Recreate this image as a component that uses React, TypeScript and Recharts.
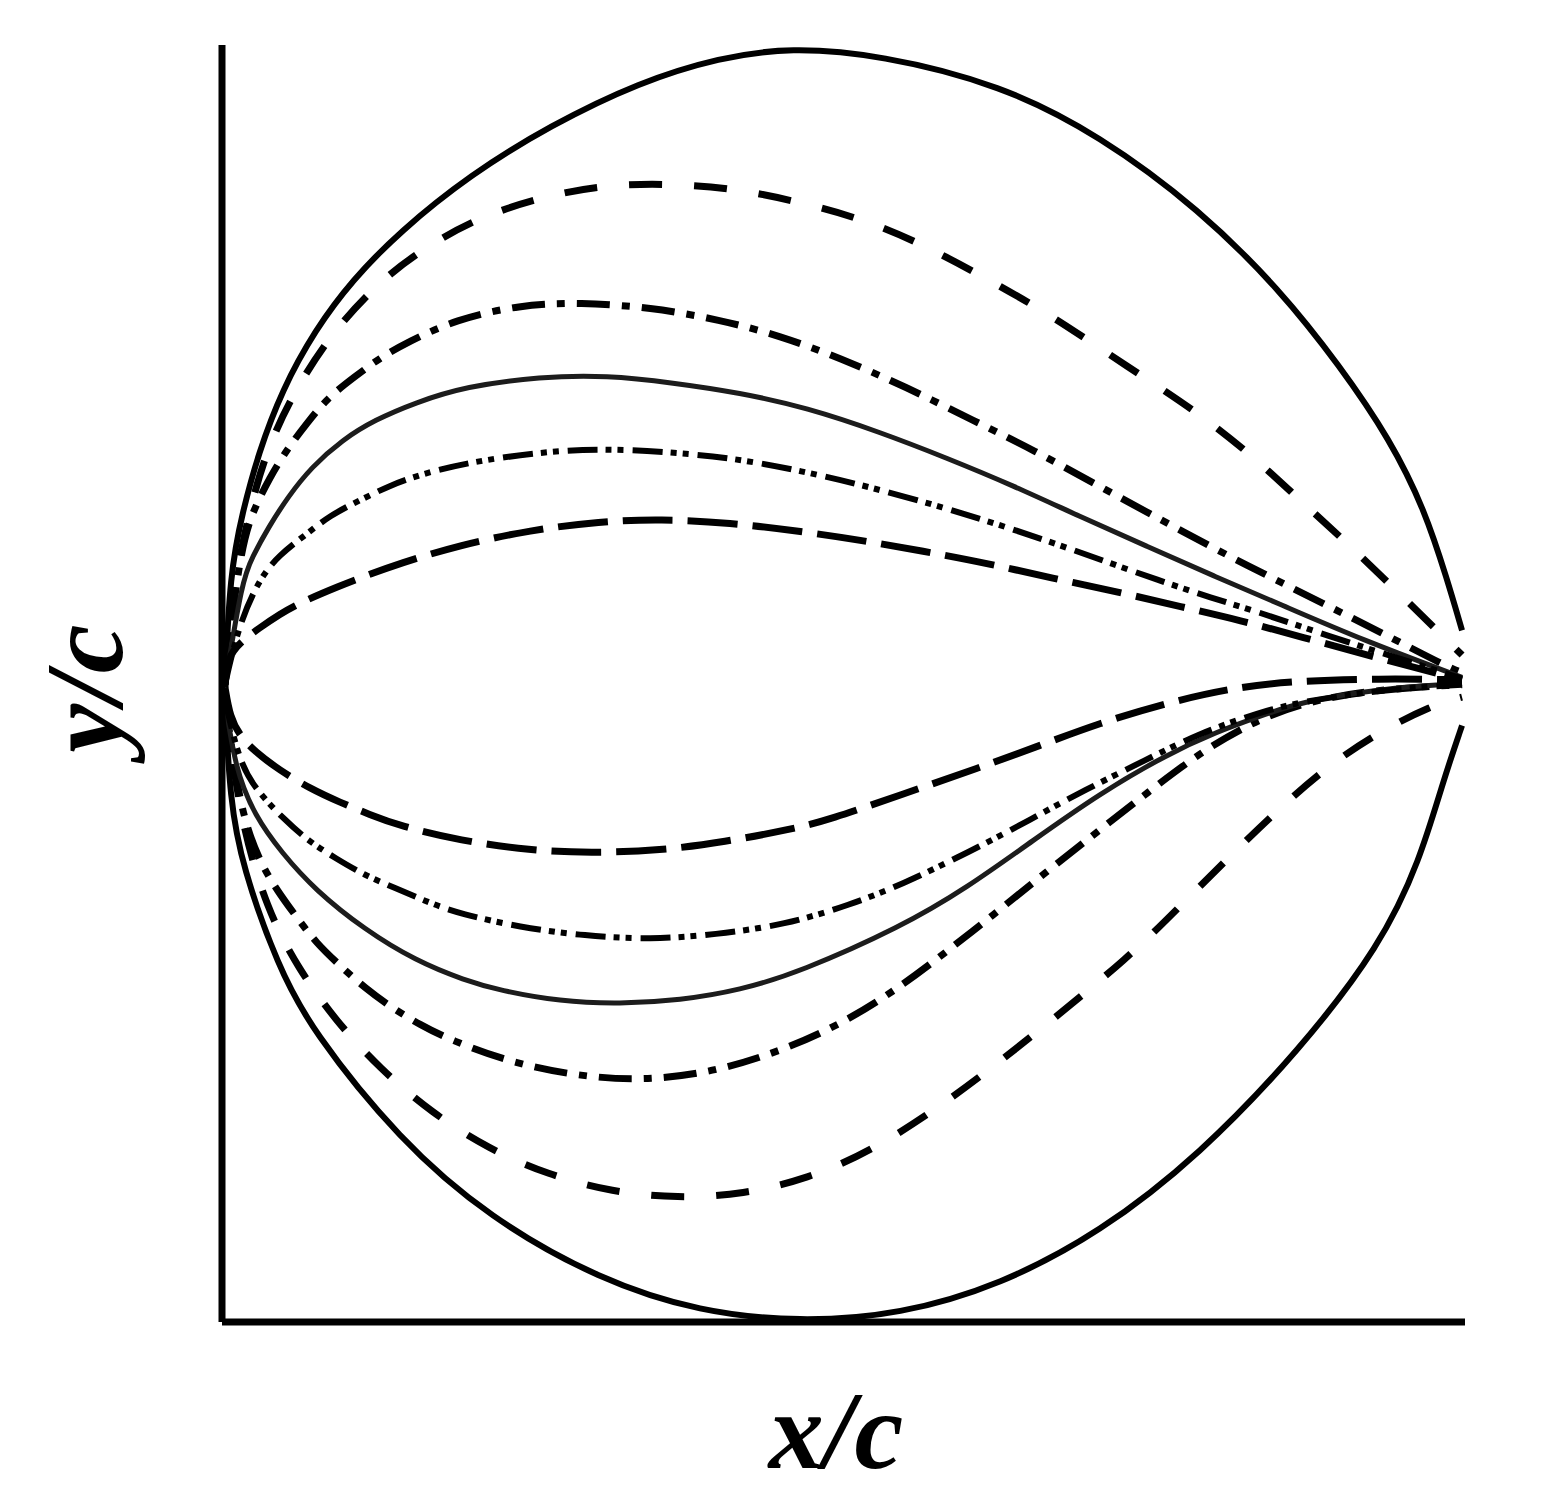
import React from 'react';
import { LineChart, Line, XAxis, YAxis, Label } from 'recharts';

type Pt = [number, number];

// x/c, y/c (chord from leading edge to trailing edge)
const OUTER_UPPER: Pt[] = [
  [0, 0.006], [0.004, 0.096], [0.014, 0.145], [0.027, 0.193], [0.046, 0.244], [0.073, 0.293],
  [0.103, 0.333], [0.141, 0.372], [0.198, 0.418], [0.263, 0.458], [0.335, 0.493], [0.4, 0.513],
  [0.457, 0.521], [0.53, 0.515], [0.627, 0.491], [0.707, 0.45], [0.788, 0.39], [0.853, 0.325],
  [0.901, 0.264], [0.942, 0.204], [0.97, 0.147], [0.988, 0.091], [1.0, 0.05],
];
const OUTER_LOWER: Pt[] = [
  [0, -0.006], [0.004, -0.087], [0.014, -0.141], [0.043, -0.222], [0.07, -0.273], [0.141, -0.362],
  [0.214, -0.425], [0.303, -0.475], [0.384, -0.501], [0.465, -0.509], [0.546, -0.503], [0.627, -0.479],
  [0.707, -0.437], [0.788, -0.374], [0.869, -0.289], [0.934, -0.205], [0.966, -0.136], [0.985, -0.071],
  [1.0, -0.027],
];
const DASHED_UPPER: Pt[] = [
  [0, 0.006], [0.002, 0.058], [0.016, 0.131], [0.031, 0.189], [0.053, 0.238], [0.085, 0.289],
  [0.124, 0.331], [0.158, 0.357], [0.203, 0.383], [0.255, 0.4], [0.306, 0.41], [0.36, 0.411],
  [0.413, 0.407], [0.465, 0.396], [0.517, 0.382], [0.566, 0.361], [0.618, 0.333], [0.667, 0.305],
  [0.707, 0.278], [0.753, 0.248], [0.793, 0.221], [0.834, 0.188], [0.869, 0.155], [0.909, 0.119],
  [0.951, 0.078], [0.99, 0.04], [1.0, 0.03],
];
const DASHED_LOWER: Pt[] = [
  [0, -0.006], [0.012, -0.103], [0.034, -0.176], [0.059, -0.223], [0.089, -0.265], [0.125, -0.304],
  [0.167, -0.34], [0.213, -0.369], [0.261, -0.39], [0.313, -0.404], [0.366, -0.409], [0.419, -0.406],
  [0.471, -0.393], [0.521, -0.372], [0.586, -0.33], [0.659, -0.273], [0.732, -0.213], [0.77, -0.175],
  [0.808, -0.137], [0.846, -0.1], [0.886, -0.064], [0.929, -0.034], [0.977, -0.01], [1.0, -0.004],
];
const DASHDOT_UPPER: Pt[] = [
  [0, 0.006], [0.008, 0.082], [0.016, 0.127], [0.024, 0.149], [0.036, 0.173], [0.05, 0.196],
  [0.066, 0.217], [0.083, 0.238], [0.105, 0.255], [0.125, 0.27], [0.148, 0.283], [0.186, 0.301],
  [0.238, 0.313], [0.287, 0.315], [0.344, 0.311], [0.4, 0.301], [0.449, 0.288], [0.497, 0.27],
  [0.55, 0.247], [0.606, 0.219], [0.655, 0.195], [0.702, 0.169], [0.748, 0.144], [0.796, 0.118],
  [0.843, 0.094], [0.891, 0.07], [0.939, 0.046], [0.987, 0.021], [1.0, 0.016],
];
const DASHDOT_LOWER: Pt[] = [
  [0, -0.006], [0.012, -0.095], [0.028, -0.137], [0.042, -0.16], [0.058, -0.182], [0.074, -0.203],
  [0.093, -0.221], [0.113, -0.239], [0.135, -0.255], [0.158, -0.269], [0.182, -0.281], [0.23, -0.299],
  [0.283, -0.31], [0.335, -0.314], [0.39, -0.308], [0.441, -0.293], [0.489, -0.273], [0.535, -0.246],
  [0.578, -0.214], [0.621, -0.18], [0.663, -0.146], [0.705, -0.113], [0.746, -0.081], [0.788, -0.049],
  [0.829, -0.025], [0.869, -0.009], [0.926, 0.002], [1.0, 0.006],
];
const SOLID_UPPER: Pt[] = [
  [0, 0.006], [0.014, 0.091], [0.022, 0.109], [0.035, 0.133], [0.051, 0.158], [0.07, 0.182],
  [0.095, 0.204], [0.121, 0.22], [0.154, 0.234], [0.194, 0.247], [0.255, 0.255], [0.309, 0.256],
  [0.362, 0.25], [0.416, 0.242], [0.47, 0.23], [0.53, 0.21], [0.584, 0.189], [0.637, 0.167],
  [0.691, 0.142], [0.745, 0.118], [0.799, 0.094], [0.853, 0.071], [0.92, 0.042], [1.0, 0.012],
];
const SOLID_LOWER: Pt[] = [
  [0, -0.006], [0.008, -0.061], [0.024, -0.1], [0.046, -0.13], [0.073, -0.16], [0.113, -0.192],
  [0.154, -0.217], [0.194, -0.233], [0.222, -0.241], [0.271, -0.25], [0.319, -0.252], [0.368, -0.249],
  [0.416, -0.241], [0.465, -0.226], [0.546, -0.19], [0.6, -0.158], [0.653, -0.12], [0.707, -0.082],
  [0.762, -0.05], [0.802, -0.032], [0.835, -0.02], [0.869, -0.008], [0.934, 0.003], [1.0, 0.007],
];
const DDD_UPPER: Pt[] = [
  [0, 0.006], [0.011, 0.054], [0.028, 0.092], [0.044, 0.111], [0.065, 0.127], [0.085, 0.143],
  [0.109, 0.155], [0.133, 0.167], [0.158, 0.176], [0.198, 0.186], [0.255, 0.194], [0.303, 0.197],
  [0.36, 0.194], [0.412, 0.189], [0.465, 0.179], [0.517, 0.167], [0.582, 0.149], [0.633, 0.133],
  [0.683, 0.116], [0.733, 0.098], [0.785, 0.08], [0.835, 0.065], [0.893, 0.045], [0.95, 0.027],
  [1.0, 0.011],
];
const DDD_LOWER: Pt[] = [
  [0, -0.006], [0.012, -0.059], [0.028, -0.082], [0.047, -0.102], [0.067, -0.12], [0.089, -0.134],
  [0.113, -0.148], [0.137, -0.158], [0.167, -0.171], [0.19, -0.179], [0.238, -0.19], [0.291, -0.197],
  [0.344, -0.2], [0.396, -0.196], [0.453, -0.188], [0.505, -0.172], [0.546, -0.156], [0.602, -0.129],
  [0.651, -0.103], [0.695, -0.079], [0.744, -0.055], [0.788, -0.033], [0.837, -0.016], [0.869, -0.008],
  [0.934, 0.002], [1.0, 0.006],
];
const LONG_UPPER: Pt[] = [
  [0, 0.004], [0.002, 0.028], [0.012, 0.04], [0.028, 0.052], [0.044, 0.063], [0.062, 0.073],
  [0.093, 0.086], [0.111, 0.093], [0.141, 0.104], [0.19, 0.119], [0.247, 0.131], [0.303, 0.138],
  [0.352, 0.14], [0.408, 0.137], [0.465, 0.13], [0.513, 0.123], [0.564, 0.114], [0.617, 0.104],
  [0.669, 0.092], [0.722, 0.081], [0.773, 0.069], [0.821, 0.058], [0.869, 0.045], [0.934, 0.027],
  [1.0, 0.01],
];
const LONG_LOWER: Pt[] = [
  [0, 0.004], [0.004, -0.02], [0.012, -0.035], [0.024, -0.048], [0.044, -0.063], [0.069, -0.078],
  [0.093, -0.089], [0.117, -0.099], [0.141, -0.108], [0.19, -0.12], [0.247, -0.128], [0.295, -0.13],
  [0.352, -0.128], [0.404, -0.121], [0.457, -0.111], [0.489, -0.103], [0.546, -0.083], [0.61, -0.061],
  [0.659, -0.043], [0.707, -0.025], [0.76, -0.009], [0.812, 0.003], [0.861, 0.009], [0.934, 0.011],
  [1.0, 0.01],
];

const X_DOMAIN: [number, number] = [-0.0024, 1.0024];
const Y_DOMAIN: [number, number] = [-0.509, 0.523];

const toRows = (pts: Pt[]) => pts.map(([x, y]) => ({ x, y }));

const STYLES = {
  solid: { dash: undefined, width: 6, color: '#000' },
  dashed: { dash: '33 32', width: 7, color: '#000' },
  dashDot: { dash: '33 12 8 12', width: 7, color: '#000' },
  thin: { dash: undefined, width: 5, color: '#1c1c1c' },
  dashDotDot: { dash: '30 8 6 6 6 9', width: 6, color: '#000' },
  longDash: { dash: '50 15', width: 7, color: '#000' },
};

const SERIES = [
  { id: 'outerU', pts: OUTER_UPPER, s: STYLES.solid },
  { id: 'outerL', pts: OUTER_LOWER, s: STYLES.solid },
  { id: 'dashU', pts: DASHED_UPPER, s: STYLES.dashed },
  { id: 'dashL', pts: DASHED_LOWER, s: STYLES.dashed },
  { id: 'ddU', pts: DASHDOT_UPPER, s: STYLES.dashDot },
  { id: 'ddL', pts: DASHDOT_LOWER, s: STYLES.dashDot },
  { id: 'thinU', pts: SOLID_UPPER, s: STYLES.thin },
  { id: 'thinL', pts: SOLID_LOWER, s: STYLES.thin },
  { id: 'dddU', pts: DDD_UPPER, s: STYLES.dashDotDot },
  { id: 'dddL', pts: DDD_LOWER, s: STYLES.dashDotDot },
  { id: 'longU', pts: LONG_UPPER, s: STYLES.longDash },
  { id: 'longL', pts: LONG_LOWER, s: STYLES.longDash },
];

const labelFont = {
  fontFamily: "'Liberation Serif', 'Times New Roman', serif",
  fontWeight: 'bold' as const,
  fontStyle: 'italic' as const,
  fontSize: 110,
  fill: '#000',
};

function XLabel(props: any) {
  const vb = props.viewBox || { x: 214, y: 1314, width: 1243, height: 1 };
  return (
    <text x={vb.x + vb.width * 0.494} y={vb.y + 146} textAnchor="middle" {...labelFont}>
      x/c
    </text>
  );
}

function YLabel(props: any) {
  const vb = props.viewBox || { x: 213, y: 37, width: 1, height: 1277 };
  const cx = vb.x + vb.width - 100;
  const cy = vb.y + vb.height * 0.504;
  return (
    <text x={cx} y={cy} textAnchor="middle" transform={`rotate(-90, ${cx}, ${cy})`} {...labelFont}>
      y/c
    </text>
  );
}

export default function App() {
  return (
    <div style={{ width: 1528, height: 1487, background: '#fff' }}>
      <LineChart width={1528} height={1487} margin={{ top: 37, right: 71, bottom: 172, left: 213 }}>
        <XAxis
          type="number"
          dataKey="x"
          domain={X_DOMAIN}
          allowDataOverflow
          height={1}
          tick={false}
          tickLine={false}
          axisLine={{ stroke: '#000', strokeWidth: 7 }}
        >
          <Label content={<XLabel />} />
        </XAxis>
        <YAxis
          type="number"
          dataKey="y"
          domain={Y_DOMAIN}
          allowDataOverflow
          width={1}
          tick={false}
          tickLine={false}
          axisLine={{ stroke: '#000', strokeWidth: 7 }}
        >
          <Label content={<YLabel />} />
        </YAxis>
        {SERIES.map((sr) => (
          <Line
            key={sr.id}
            data={toRows(sr.pts)}
            dataKey="y"
            type="basis"
            stroke={sr.s.color}
            strokeWidth={sr.s.width}
            strokeDasharray={sr.s.dash}
            dot={false}
            activeDot={false}
            isAnimationActive={false}
          />
        ))}
      </LineChart>
    </div>
  );
}
